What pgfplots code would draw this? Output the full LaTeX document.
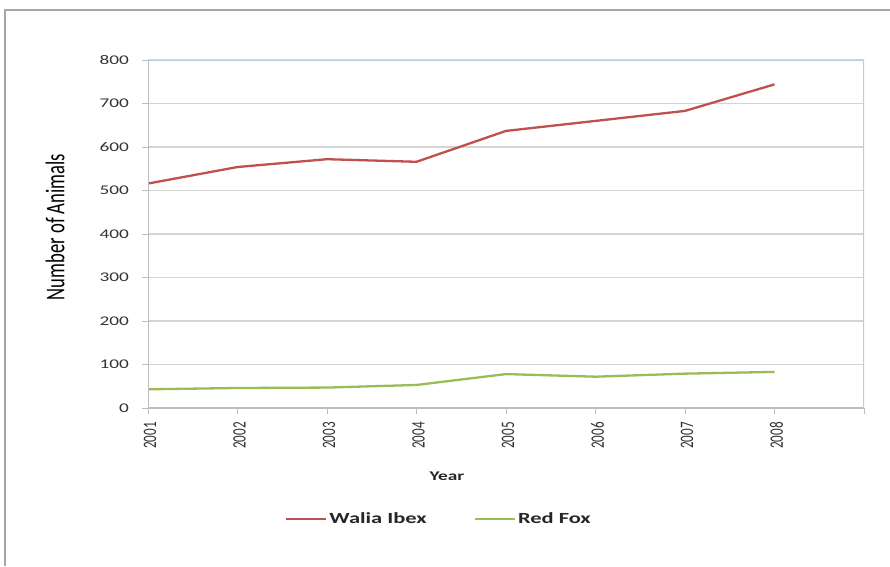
\documentclass[border=0pt]{standalone}
\usepackage{pgfplots}
\pgfplotsset{compat=1.18}
\usepackage{fontspec}
\setmainfont{Carlito}
\newfontfamily\wide[FakeStretch=1.45]{Carlito}
\newfontfamily\narrow[FakeStretch=0.69]{Carlito}
\definecolor{ibex}{HTML}{C0504D}
\definecolor{fox}{HTML}{9BBB59}
\definecolor{gridc}{HTML}{D4D4D4}
\definecolor{axc}{HTML}{BEBEBE}
\definecolor{framec}{HTML}{B9CDE5}
\definecolor{outerc}{HTML}{A6A6A6}
\begin{document}
\begin{tikzpicture}[x=1pt,y=1pt]
\useasboundingbox (0,0) rectangle (890,-566);
\draw[outerc, line width=2pt] (5,-566) -- (5,-10) -- (890,-10);
\begin{axis}[
  at={(148pt,-408pt)}, anchor=south west,
  scale only axis, width=716pt, height=348pt,
  xmin=2001, xmax=2009, ymin=0, ymax=800,
  xtick={2001,2002,2003,2004,2005,2006,2007,2008,2009},
  xticklabels={2001,2002,2003,2004,2005,2006,2007,2008,{}},
  ytick={0,100,200,300,400,500,600,700,800},
  /pgf/number format/assume math mode=true,
  axis line style={draw=none},
  tick align=outside, major tick length=6pt,
  tick style={axc, line width=1pt},
  tick pos=left,
  ymajorgrids, grid style={gridc, line width=1.2pt},
  xticklabel style={font=\narrow\fontsize{19}{19}\selectfont, rotate=90, anchor=east, inner sep=0pt, xshift=-8pt, yshift=-2pt, text=black!80},
  yticklabel style={font=\wide\fontsize{13.3}{13.3}\selectfont, anchor=east, inner sep=0pt, xshift=-13pt, text=black!80},
  xlabel={Year},
  xlabel style={at={(axis description cs:0.4176,-0.1954)}, anchor=center, font=\wide\bfseries\fontsize{13.3}{13.3}\selectfont, text=black!85},
  ylabel={Number of Animals},
  ylabel style={at={(axis description cs:-0.1299,0.520)}, anchor=center, font=\narrow\fontsize{27}{27}\selectfont, text=black},
  legend columns=2,
  legend style={at={(0.4064,-0.319)}, anchor=center, draw=none, fill=none,
    font=\wide\bfseries\fontsize{15.5}{15.5}\selectfont, text=black!85,
    /tikz/every even column/.append style={column sep=45pt}},
  legend image code/.code={\draw[#1] (0pt,0pt) -- (40pt,0pt);},
]
\addplot[ibex, line width=2.3pt, mark=none] coordinates {
  (2001,516) (2002,554) (2003,572) (2004,566) (2005,637) (2006,660) (2007,683) (2008,744)};
\addlegendentry{Walia Ibex}
\addplot[fox, line width=2.3pt, mark=none] coordinates {
  (2001,43) (2002,46) (2003,47) (2004,53) (2005,78) (2006,72) (2007,79) (2008,83)};
\addlegendentry{Red Fox}
\draw[axc, line width=1.2pt] (rel axis cs:0,1) -- (rel axis cs:0,0) -- (rel axis cs:1,0);
\draw[framec, line width=1.6pt] (rel axis cs:0,1) -- (rel axis cs:1,1) -- (rel axis cs:1,0);
\end{axis}
\end{tikzpicture}
\end{document}
